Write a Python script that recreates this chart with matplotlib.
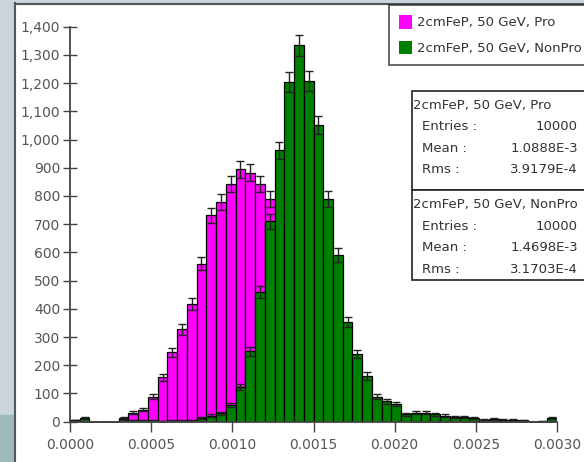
import numpy as np
import matplotlib
matplotlib.use("Agg")
import matplotlib.pyplot as plt
from matplotlib.patches import Rectangle, Patch
from matplotlib.lines import Line2D
from matplotlib.ticker import FuncFormatter, MultipleLocator

# 50 bins of 0.00006 between 0 and 0.003
x_min, x_max, n_bins = 0.0, 0.003, 50

pro_counts = [3, 0, 0, 0, 0, 12, 32, 43, 89, 157,
              246, 327, 417, 560, 732, 779, 843, 895, 883, 843,
              789, 650, 520, 380, 270, 200, 130, 80, 50, 30,
              20, 12, 8, 5, 3, 2, 1, 1, 0, 0,
              0, 0, 0, 0, 0, 0, 0, 0, 0, 0]
nonpro_counts = [5, 12, 0, 0, 0, 8, 3, 3, 3, 2,
                 4, 3, 5, 13, 21, 30, 59, 122, 250, 460,
                 710, 962, 1204, 1334, 1208, 1051, 788, 590, 354, 240,
                 162, 89, 73, 62, 26, 32, 32, 26, 21, 17,
                 17, 12, 7, 10, 6, 6, 5, 0, 2, 12]

series_names = ["2cmFeP, 50 GeV, Pro", "2cmFeP, 50 GeV, NonPro"]
stats_labels = ["Entries :", "Mean :", "Rms :"]
pro_stats = ["10000", "1.0888E-3", "3.9179E-4"]
nonpro_stats = ["10000", "1.4698E-3", "3.1703E-4"]

W, H = 584, 462
fig = plt.figure(figsize=(W / 100, H / 100), dpi=100, facecolor="white")


def fx(px):
    return px / W


def fy(py):
    return 1 - py / H


# surrounding window frame
fig.patches.append(Rectangle((0, 0), fx(14), 1, transform=fig.transFigure, color="#c9d5da", zorder=0))
fig.patches.append(Rectangle((0, 0), fx(14), fy(415), transform=fig.transFigure, color="#9dbaba", zorder=0))
fig.patches.append(Rectangle((0, fy(3)), 1, 1 - fy(3), transform=fig.transFigure, color="#c9d5da", zorder=0))
fig.lines.append(Line2D([fx(15), fx(15)], [0, fy(3)], transform=fig.transFigure, color="#555555", lw=1.5))
fig.lines.append(Line2D([fx(15), 1], [fy(3.5), fy(3.5)], transform=fig.transFigure, color="#555555", lw=1.5))

ax = fig.add_axes([fx(70), fy(421.7), fx(557) - fx(70), fy(26.7) - fy(421.7)])
ax.set_facecolor("none")

edges = np.linspace(x_min, x_max, n_bins + 1)
width = edges[1] - edges[0]
centers = edges[:-1] + width / 2

# second series is drawn over the first (bars and error bars)
for k, (counts, color) in enumerate([(pro_counts, "#ff00ff"), (nonpro_counts, "#008000")]):
    counts = np.array(counts)
    ax.bar(edges[:-1], counts, width=width, align="edge", color=color,
           edgecolor="black", linewidth=0.9, zorder=2 + 2 * k)
    ax.errorbar(centers, counts, yerr=np.sqrt(counts), fmt="none",
                ecolor="#222222", elinewidth=1, capsize=3, capthick=1, zorder=3 + 2 * k)

ax.set_xlim(x_min, x_max)
ax.set_ylim(0, 1400)
ax.xaxis.set_major_locator(MultipleLocator(0.0005))
ax.yaxis.set_major_locator(MultipleLocator(100))
ax.xaxis.set_major_formatter(FuncFormatter(lambda v, p: f"{v:.4f}"))
ax.yaxis.set_major_formatter(FuncFormatter(lambda v, p: f"{int(round(v)):,}"))
for s in ["top", "right"]:
    ax.spines[s].set_visible(False)
for s in ["left", "bottom"]:
    ax.spines[s].set_color("#444444")
    ax.spines[s].set_linewidth(1.3)
    ax.spines[s].set_zorder(6)
ax.tick_params(axis="y", direction="inout", length=10, width=1, color="#444444",
               labelcolor="#555555", labelsize=10, pad=2)
ax.tick_params(axis="x", direction="out", length=7, width=1, color="#444444",
               labelcolor="#555555", labelsize=10, pad=5)

# legend
handles = [Patch(facecolor="#ff00ff", edgecolor="none"), Patch(facecolor="#008000", edgecolor="none")]
leg = fig.legend(handles, series_names, loc="upper left", bbox_to_anchor=(fx(389), fy(5)),
                 fontsize=9.5, frameon=True, fancybox=False, edgecolor="#222222",
                 handlelength=1.0, handleheight=1.25, handletextpad=0.4,
                 borderpad=0.75, labelspacing=0.85, borderaxespad=0)
leg.get_frame().set_linewidth(1.2)
for t in leg.get_texts():
    t.set_color("#333333")

# statistics boxes
box_left, box_right = 411.7, 590
for i, (name, vals) in enumerate([(series_names[0], pro_stats), (series_names[1], nonpro_stats)]):
    top = 90.7 + i * 99.5
    bottom = top + 99.5 if i == 0 else 280
    fig.patches.append(Rectangle((fx(box_left), fy(bottom)), fx(box_right) - fx(box_left), fy(top) - fy(bottom),
                                 transform=fig.transFigure, facecolor="white", edgecolor="#222222",
                                 linewidth=1.2, zorder=5))
    fig.text(fx(413), fy(top + 14.5), name, fontsize=9.5, color="#333333", va="center", ha="left", zorder=6)
    for j, (lab, val) in enumerate(zip(stats_labels, vals)):
        yy = top + 36 + j * 21.6
        fig.text(fx(421.5), fy(yy), lab, fontsize=9.5, color="#333333", va="center", ha="left", zorder=6)
        fig.text(fx(578), fy(yy), val, fontsize=9.5, color="#333333", va="center", ha="right", zorder=6)

fig.savefig("out.png", dpi=100, facecolor="white")
